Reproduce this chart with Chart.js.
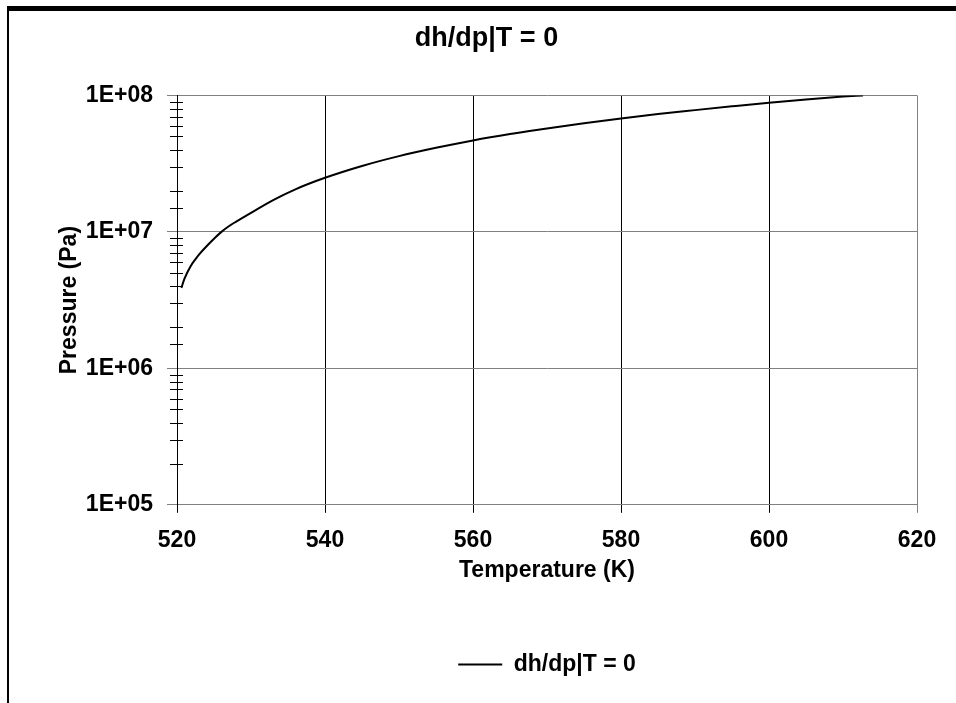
<!DOCTYPE html>
<html>
<head>
<meta charset="utf-8">
<script src="https://cdn.jsdelivr.net/npm/chart.js@4.4.1/dist/chart.umd.min.js"></script>
<style>
  html, body { margin: 0; padding: 0; background: #fff; }
  #wrap { position: relative; width: 956px; height: 703px; overflow: hidden; }
  #frame { position: absolute; left: 7px; top: 6px; right: 0; bottom: 0;
           border-top: 5px solid #000; border-left: 2px solid #000; pointer-events: none; }
  canvas { position: absolute; left: 0; top: 0; }
</style>
</head>
<body>
<div id="wrap">
  <canvas id="c" width="956" height="703"></canvas>
  <div id="frame"></div>
</div>
<script>
// values
var temperature = [520.6, 521.0, 521.8, 522.5, 523.0, 524.0, 525.0, 526.0, 527.0, 528.0, 530.0,
                   533.0, 536.0, 540.0, 545.0, 550.0, 555.0, 560.0, 565.0, 570.0, 575.0,
                   580.0, 585.0, 590.0, 595.0, 600.0, 605.0, 610.0, 612.7];
var pressure = [3.89e6, 4.52e6, 5.56e6, 6.31e6, 6.84e6, 7.85e6, 8.91e6, 1.00e7, 1.10e7, 1.19e7, 1.38e7,
                1.71e7, 2.05e7, 2.49e7, 3.04e7, 3.59e7, 4.13e7, 4.68e7, 5.21e7, 5.72e7, 6.26e7,
                6.78e7, 7.30e7, 7.80e7, 8.32e7, 8.85e7, 9.35e7, 9.80e7, 1.00e8];
var xTicks = [520, 540, 560, 580, 600, 620];
var yDecades = [1e5, 1e6, 1e7, 1e8];
var yTickLabels = ['1E+05', '1E+06', '1E+07', '1E+08'];
var seriesName = 'dh/dp|T = 0';

function decadeIndex(v) {
    for (var i = 0; i < yDecades.length; i++) {
        if (Math.abs(v - yDecades[i]) < yDecades[i] * 1e-6) return i;
    }
    return -1;
}

Chart.defaults.font.family = '"Liberation Sans", Arial, sans-serif';
Chart.defaults.font.weight = 'bold';
Chart.defaults.font.size = 23;
Chart.defaults.color = '#000';

// short minor ticks crossing the left axis
var minorTicks = {
    id: 'minorTicks',
    afterDraw: function(chart) {
        var s = chart.scales.y, ctx = chart.ctx;
        ctx.save();
        ctx.strokeStyle = '#000';
        ctx.lineWidth = 1;
        s.ticks.forEach(function(t) {
            if (decadeIndex(t.value) >= 0) return;
            var y = Math.round(s.getPixelForValue(t.value)) + 0.5;
            ctx.beginPath();
            ctx.moveTo(s.right - 7, y);
            ctx.lineTo(s.right + 6, y);
            ctx.stroke();
        });
        ctx.restore();
    }
};

var points = temperature.map(function(t, i) { return { x: t, y: pressure[i] }; });

new Chart(document.getElementById('c'), {
    type: 'scatter',
    data: {
        datasets: [{
            label: seriesName,
            data: points,
            showLine: true,
            borderColor: '#000',
            backgroundColor: '#000',
            borderWidth: 2,
            pointRadius: 0,
            cubicInterpolationMode: 'monotone',
            yAxisID: 'y'
        }]
    },
    options: {
        responsive: false,
        animation: false,
        layout: { padding: { left: 17, right: 0, top: 0, bottom: 17 } },
        plugins: {
            title: {
                display: true,
                text: seriesName,
                font: { size: 27, weight: 'bold' },
                color: '#000',
                padding: { top: 22, bottom: 41 }
            },
            legend: {
                position: 'bottom',
                fullSize: false,
                labels: {
                    usePointStyle: true,
                    pointStyle: 'line',
                    pointStyleWidth: 44,
                    padding: 10,
                    color: '#000',
                    font: { size: 23, weight: 'bold' }
                }
            },
            tooltip: { enabled: false }
        },
        scales: {
            x: {
                type: 'linear',
                min: xTicks[0],
                max: xTicks[xTicks.length - 1],
                afterBuildTicks: function(s) {
                    s.ticks = xTicks.map(function(v) { return { value: v }; });
                },
                ticks: { padding: 14, maxRotation: 0, color: '#000' },
                grid: {
                    color: function(c) { return c.tick && c.tick.value === 620 ? '#808080' : '#000'; },
                    tickColor: function(c) { return c.tick && c.tick.value === 620 ? '#808080' : '#000'; },
                    tickLength: 8,
                    lineWidth: 1
                },
                border: { color: '#808080', width: 1 },
                title: {
                    display: true,
                    text: 'Temperature (K)',
                    color: '#000',
                    padding: { top: -12, bottom: 59 }
                }
            },
            y: {
                type: 'logarithmic',
                position: 'left',
                min: yDecades[0],
                max: yDecades[yDecades.length - 1],
                afterFit: function(s) { s.width = 160; },
                ticks: {
                    autoSkip: false,
                    padding: 14,
                    color: '#000',
                    callback: function(v) {
                        var i = decadeIndex(v);
                        return i >= 0 ? yTickLabels[i] : '';
                    }
                },
                grid: {
                    color: function(c) { return c.tick && decadeIndex(c.tick.value) >= 0 ? '#808080' : 'rgba(0,0,0,0)'; },
                    tickColor: function(c) { return c.tick && decadeIndex(c.tick.value) >= 0 ? '#808080' : 'rgba(0,0,0,0)'; },
                    tickLength: 10,
                    lineWidth: 1
                },
                border: { color: '#000', width: 1 },
                title: {
                    display: true,
                    text: 'Pressure (Pa)',
                    color: '#000',
                    padding: { top: 39, bottom: 0 }
                }
            },
            yR: {
                type: 'linear',
                position: 'right',
                afterFit: function(s) { s.width = 39; },
                ticks: { display: false },
                grid: { display: false, drawTicks: false },
                border: { display: false }
            }
        }
    },
    plugins: [minorTicks]
});
</script>
</body>
</html>
